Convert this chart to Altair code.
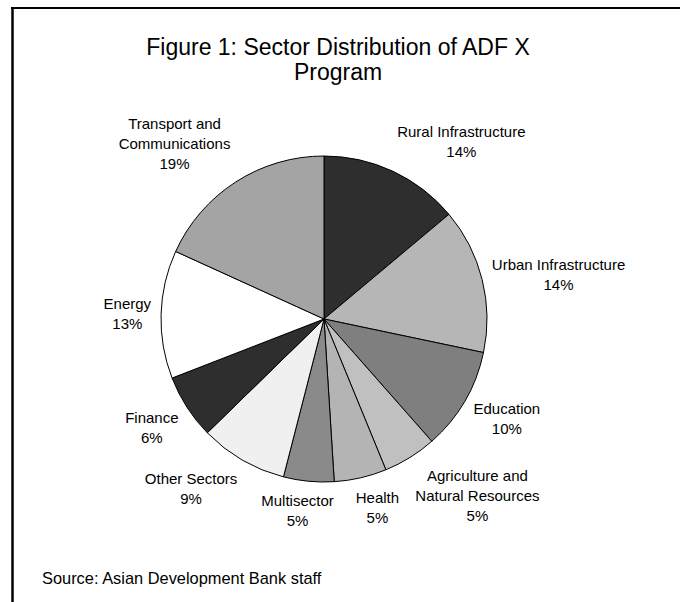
import math
import altair as alt
import pandas as pd

sectors = ["Rural Infrastructure", "Urban Infrastructure", "Education",
           "Agriculture and Natural Resources", "Health", "Multisector",
           "Other Sectors", "Finance", "Energy", "Transport and Communications"]
label_lines = [["Rural Infrastructure"], ["Urban Infrastructure"], ["Education"],
               ["Agriculture and", "Natural Resources"], ["Health"], ["Multisector"],
               ["Other Sectors"], ["Finance"], ["Energy"], ["Transport and", "Communications"]]
values = [13.9, 14.4, 10.2, 5.3, 5.2, 5.0, 8.7, 6.4, 12.7, 18.2]
pct_labels = ["14%", "14%", "10%", "5%", "5%", "5%", "9%", "6%", "13%", "19%"]

# ---- styles ----
fills = ["#2e2e2e", "#b6b6b6", "#7f7f7f", "#c0c0c0", "#b4b4b4",
         "#8a8a8a", "#f0f0f0", "#2e2e2e", "#ffffff", "#a4a4a4"]
FONT = "Liberation Sans"
LABEL_SIZE = 15
LINE_H = 20
CX, CY, R, GAP = 324, 319, 163, 10

# approximate Arial advance widths (per 1000 em) to size label boxes
AW = {'R': 722, 'u': 556, 'r': 333, 'a': 556, 'l': 222, ' ': 278, 'I': 278, 'n': 556,
      'f': 278, 's': 500, 't': 278, 'c': 500, 'e': 556, 'U': 722, 'b': 556, 'E': 667,
      'd': 556, 'i': 222, 'o': 556, 'A': 667, 'g': 556, 'N': 722, 'H': 722, 'M': 833,
      'O': 778, 'S': 667, 'F': 611, 'y': 500, 'T': 611, 'p': 556, 'C': 722, 'm': 833,
      '%': 889, 'h': 556}


def text_w(s):
    return sum(AW.get(ch, 556) for ch in s) * LABEL_SIZE / 1000.0


def clamp(v):
    return max(-1.0, min(1.0, v))


total = sum(values)
rows = []
cum = 0
for i, (sec, lines, v, pl) in enumerate(zip(sectors, label_lines, values, pct_labels)):
    mid = 2 * math.pi * (cum + v / 2) / total
    cum += v
    all_lines = lines + [pl]
    w = max(text_w(s) for s in all_lines)
    n = len(all_lines)
    h = n * LINE_H
    s, c = math.sin(mid), math.cos(mid)
    sx = clamp(3 * s)
    sy = math.copysign(max(0.0, min(1.0, (abs(c) - 0.2) * 2.2)), -c)
    lx = CX + (R + GAP) * s + w / 2 * sx
    ly = CY - (R + GAP) * c + h / 2 * sy
    # first line position so that the whole block is centred on (lx, ly)
    ly_first = ly - (n - 1) * LINE_H / 2
    rows.append({"idx": i, "sector": sec, "value": v,
                 "label": "\n".join(all_lines), "lx": lx, "ly": ly_first})
df = pd.DataFrame(rows)
one = pd.DataFrame({"k": [0]})

pie = alt.Chart(df).mark_arc(radius=R, stroke="black", strokeWidth=1).encode(
    theta=alt.Theta("value:Q", stack=True),
    order=alt.Order("idx:Q", sort="ascending"),
    fill=alt.Fill("sector:N", scale=alt.Scale(domain=sectors, range=fills), legend=None),
    x=alt.value(CX),
    y=alt.value(CY),
)

labels = alt.Chart(df).mark_text(
    font=FONT, fontSize=LABEL_SIZE, lineBreak="\n", lineHeight=LINE_H,
    align="center", baseline="middle", color="black"
).encode(
    x=alt.X("lx:Q", scale=None, axis=None),
    y=alt.Y("ly:Q", scale=None, axis=None),
    text="label:N",
)

title = alt.Chart(one).mark_text(
    text=["Figure 1: Sector Distribution of ADF X", "Program"],
    font=FONT, fontSize=23, lineHeight=25, align="center", baseline="alphabetic",
    color="black"
).encode(x=alt.value(338), y=alt.value(55))

source = alt.Chart(one).mark_text(
    text="Source: Asian Development Bank staff",
    font=FONT, fontSize=16.4, align="left", baseline="alphabetic", color="black"
).encode(x=alt.value(42), y=alt.value(584))

left_border = alt.Chart(one).mark_rule(color="black", strokeWidth=2.5).encode(
    x=alt.value(12.5), y=alt.value(7), y2=alt.value(602))
top_border = alt.Chart(one).mark_rule(color="black", strokeWidth=2).encode(
    x=alt.value(11), x2=alt.value(680), y=alt.value(8))

chart = alt.layer(pie, labels, title, source, left_border, top_border).properties(
    width=680, height=602, padding=0,
    autosize=alt.AutoSizeParams(type="none"),
    background="white",
).configure_view(stroke=None)

chart.save("out.html", embed_options={"renderer": "svg", "actions": False})
